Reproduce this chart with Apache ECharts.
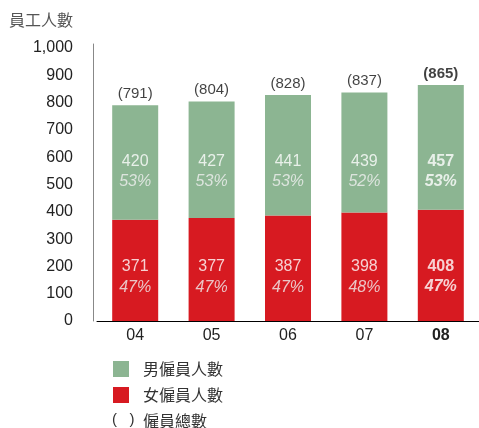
<!DOCTYPE html>
<html>
<head>
<meta charset="utf-8">
<script src="https://cdn.jsdelivr.net/npm/echarts@6/dist/echarts.min.js"></script>
<style>
  html, body { margin: 0; padding: 0; background: #fff; }
  #chart { width: 479px; height: 428px; }
</style>
</head>
<body>
<div id="chart"></div>
<script>
const years = ['04', '05', '06', '07', '08']
const female = [371, 377, 387, 398, 408]
const male = [420, 427, 441, 439, 457]
const totals = [791, 804, 828, 837, 865]
const femalePct = ['47%', '47%', '47%', '48%', '47%']
const malePct = ['53%', '53%', '53%', '52%', '53%']
const yTicks = [0, 100, 200, 300, 400, 500, 600, 700, 800, 900, 1000]

// fixed heights where the in-bar labels sit
const maleLabelAt = 547
const femaleLabelAt = 161

const GREEN = '#8cb592'
const RED = '#d71a21'
const FONT = '"Liberation Sans", Arial, Helvetica, sans-serif'
const CJK = '"Noto Sans CJK TC", "Noto Sans CJK SC", sans-serif'
const last = years.length - 1

function insideLabels(values, pcts, at) {
    return values.map((v, i) => ({
        value: at,
        label: {
            formatter: i === last ? `{vb|${v}}\n{pb|${pcts[i]}}` : `{v|${v}}\n{p|${pcts[i]}}`
        }
    }))
}

const rich = {
    v: { color: '#fff', fontSize: 16, lineHeight: 20, fontFamily: FONT },
    p: { color: '#f0f0f0', fontSize: 16, lineHeight: 20, fontStyle: 'italic', fontFamily: FONT },
    vb: { color: '#fff', fontSize: 16, lineHeight: 20, fontWeight: 'bold', fontFamily: FONT },
    pb: { color: '#fff', fontSize: 16, lineHeight: 20, fontWeight: 'bold', fontStyle: 'italic', fontFamily: FONT }
}

const myChart = echarts.init(document.getElementById('chart'))

const option = {
    animation: false,
    title: {
        text: '員工人數',
        left: 9,
        top: 12,
        padding: 0,
        textStyle: { fontSize: 16, fontWeight: 'normal', color: '#555', fontFamily: CJK }
    },
    legend: {
        orient: 'vertical',
        left: 113,
        top: 361,
        height: 80,
        padding: 0,
        itemWidth: 16,
        itemHeight: 16,
        itemGap: 10,
        selectedMode: false,
        textStyle: { fontSize: 16, lineHeight: 16, color: '#333', fontFamily: CJK, padding: [0, 0, 0, 9] },
        data: [
            { name: '男僱員人數', icon: 'rect' },
            { name: '女僱員人數', icon: 'rect' },
            { name: '僱員總數', icon: 'none' }
        ]
    },
    graphic: [{
        type: 'text',
        left: 112,
        top: 412,
        style: { text: '(   )', fontSize: 15, fill: '#333', fontFamily: FONT }
    }],
    grid: { left: 97, top: 44, width: 385, height: 277 },
    xAxis: {
        type: 'category',
        data: years,
        axisLine: { lineStyle: { color: '#000', width: 1 } },
        axisTick: { show: false },
        axisLabel: {
            margin: 7,
            fontSize: 16,
            color: '#222',
            fontFamily: FONT,
            formatter: (v, i) => i === last ? `{b|${v}}` : v,
            rich: { b: { fontSize: 16, fontWeight: 'bold', color: '#222', fontFamily: FONT } }
        }
    },
    yAxis: {
        type: 'value',
        min: 0,
        max: 1015,
        interval: 100,
        offset: 4,
        axisLine: { show: true, lineStyle: { color: '#888', width: 1 } },
        axisTick: { show: false },
        splitLine: { show: false },
        axisLabel: {
            margin: 20,
            fontSize: 16,
            color: '#222',
            fontFamily: FONT,
            showMaxLabel: false,
            formatter: v => yTicks.includes(v) ? v.toLocaleString('en-US') : ''
        }
    },
    series: [
        {
            name: '女僱員人數',
            type: 'bar',
            stack: 'staff',
            barWidth: 46,
            itemStyle: { color: RED },
            data: female
        },
        {
            name: '男僱員人數',
            type: 'bar',
            stack: 'staff',
            barWidth: 46,
            itemStyle: { color: GREEN },
            data: male
        },
        {
            name: '僱員總數',
            type: 'scatter',
            symbolSize: 0,
            silent: true,
            itemStyle: { color: '#000' },
            label: {
                show: true,
                position: 'top',
                distance: 4,
                fontSize: 15,
                color: '#111',
                fontFamily: FONT
            },
            data: totals.map((t, i) => ({
                value: t,
                label: { formatter: `(${t})`, fontWeight: i === last ? 'bold' : 'normal' }
            }))
        },
        {
            type: 'scatter',
            symbolSize: 0,
            silent: true,
            label: { show: true, position: 'inside', rich: rich },
            data: insideLabels(male, malePct, maleLabelAt)
        },
        {
            type: 'scatter',
            symbolSize: 0,
            silent: true,
            label: { show: true, position: 'inside', rich: rich },
            data: insideLabels(female, femalePct, femaleLabelAt)
        }
    ]
}

myChart.setOption(option)
</script>
</body>
</html>
